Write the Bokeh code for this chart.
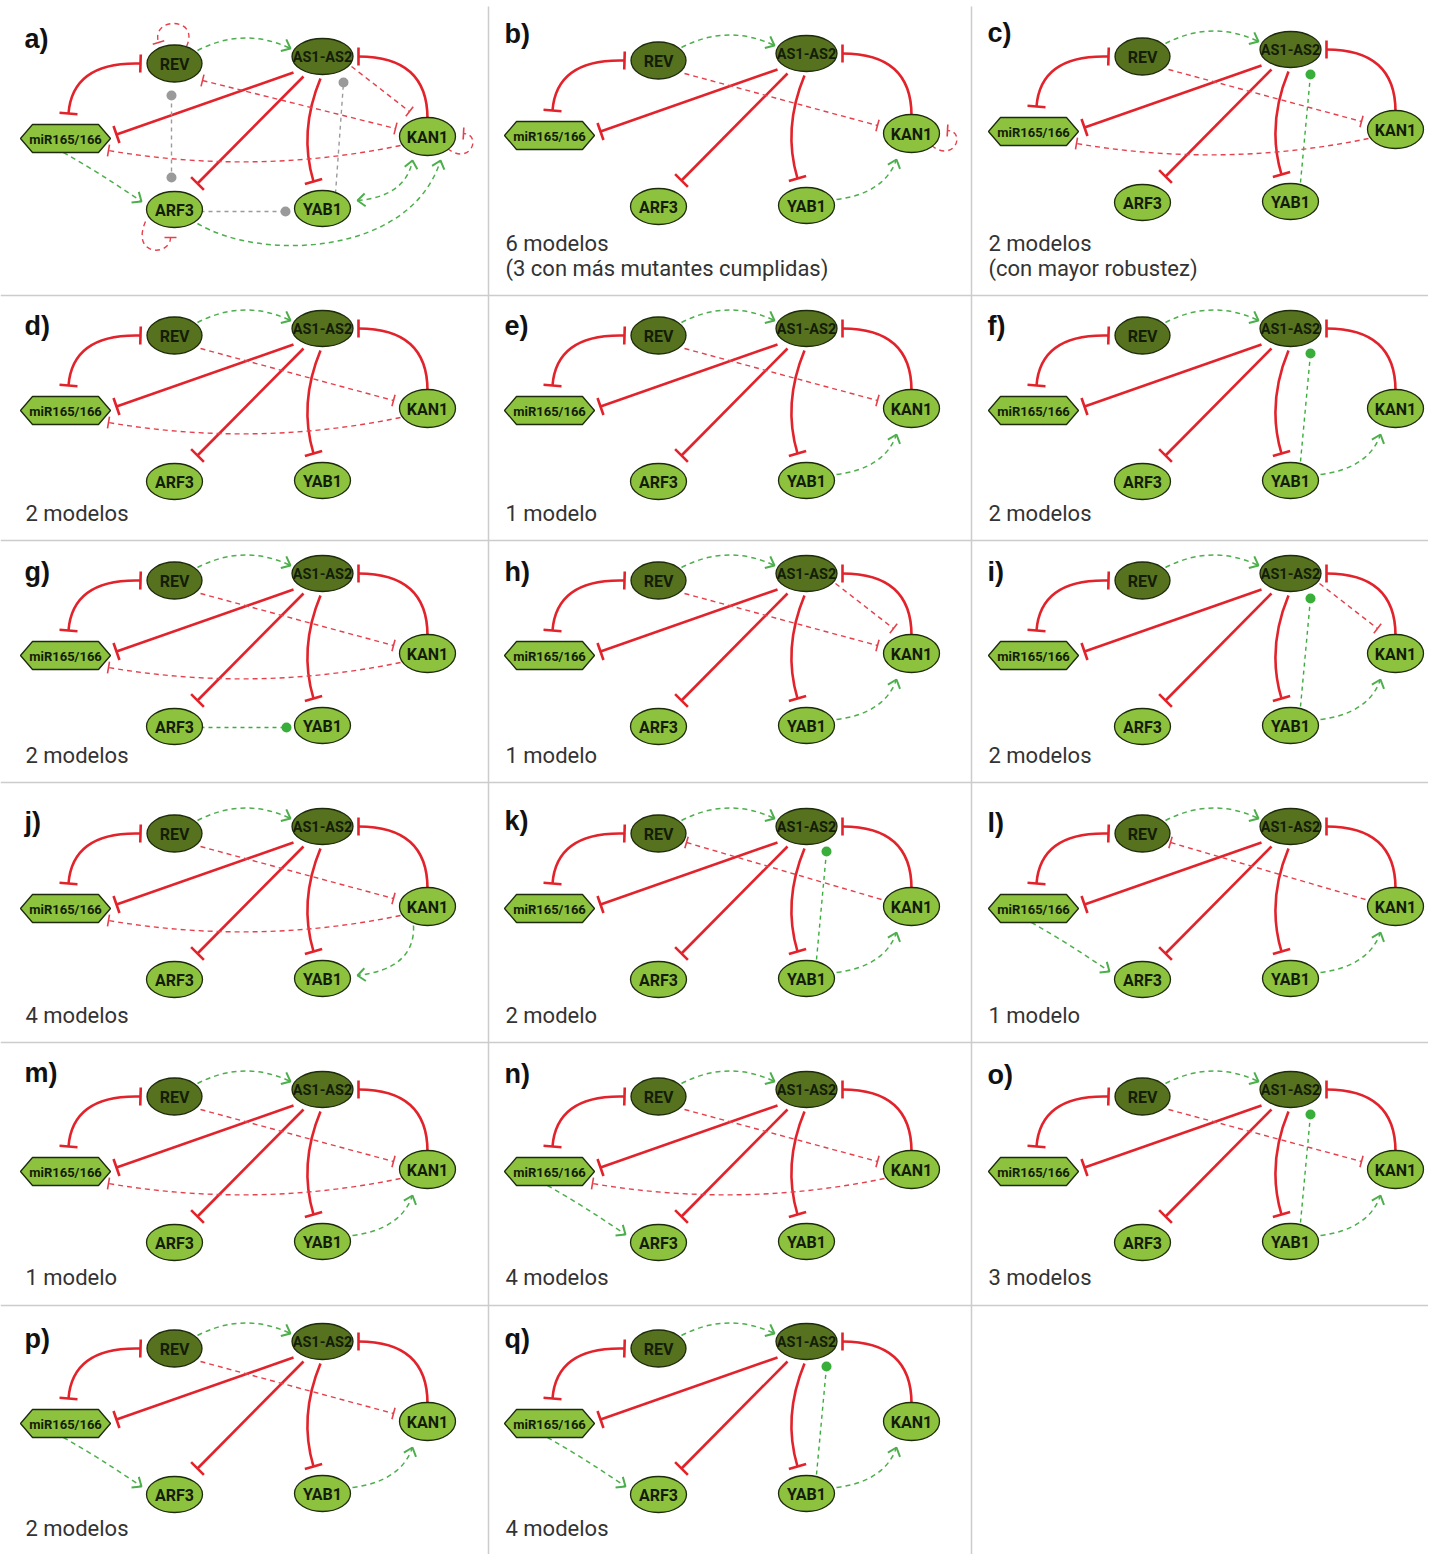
import math
from bokeh.plotting import figure
from bokeh.models import Range1d
from bokeh.core.properties import value
from bokeh.embed import file_html
from bokeh.resources import INLINE

# ---------------- data ----------------
NODES = ["REV", "AS1-AS2", "miR165/166", "KAN1", "ARF3", "YAB1"]
NODE_GROUP = ["oscuro", "oscuro", "miARN", "claro", "claro", "claro"]

PANEL_LABELS = ["a)", "b)", "c)", "d)", "e)", "f)", "g)", "h)", "i)",
                "j)", "k)", "l)", "m)", "n)", "o)", "p)", "q)"]

CAPTIONS = [
    [],
    ["6 modelos", "(3 con más mutantes cumplidas)"],
    ["2 modelos", "(con mayor robustez)"],
    ["2 modelos"], ["1 modelo"], ["2 modelos"],
    ["2 modelos"], ["1 modelo"], ["2 modelos"],
    ["4 modelos"], ["2 modelo"], ["1 modelo"],
    ["1 modelo"], ["4 modelos"], ["3 modelos"],
    ["2 modelos"], ["4 modelos"],
]

# edges common to every panel: (source, target, interaction)
BASE_EDGES = [
    ("REV", "miR165/166", "inhibe-mutua"),
    ("AS1-AS2", "miR165/166", "inhibe"),
    ("AS1-AS2", "ARF3", "inhibe"),
    ("AS1-AS2", "YAB1", "inhibe"),
    ("KAN1", "AS1-AS2", "inhibe"),
    ("REV", "AS1-AS2", "activa?"),
]

# panel-specific edges
EXTRA_EDGES = [
    [("REV", "KAN1", "inhibe-mutua?"), ("KAN1", "miR165/166", "inhibe?"),
     ("AS1-AS2", "KAN1", "inhibe?"), ("YAB1", "KAN1", "activa-mutua?"),
     ("ARF3", "KAN1", "activa?"), ("miR165/166", "ARF3", "activa?"),
     ("REV", "REV", "inhibe?"), ("ARF3", "ARF3", "inhibe?"), ("KAN1", "KAN1", "inhibe?"),
     ("REV", "ARF3", "interaccion"), ("YAB1", "AS1-AS2", "interaccion"),
     ("ARF3", "YAB1", "interaccion")],
    [("REV", "KAN1", "inhibe?"), ("KAN1", "KAN1", "inhibe?"), ("YAB1", "KAN1", "activa?")],
    [("REV", "KAN1", "inhibe?"), ("KAN1", "miR165/166", "inhibe?"), ("YAB1", "AS1-AS2", "contacto?")],
    [("REV", "KAN1", "inhibe?"), ("KAN1", "miR165/166", "inhibe?")],
    [("REV", "KAN1", "inhibe?"), ("YAB1", "KAN1", "activa?")],
    [("YAB1", "AS1-AS2", "contacto?"), ("YAB1", "KAN1", "activa?")],
    [("REV", "KAN1", "inhibe?"), ("KAN1", "miR165/166", "inhibe?"), ("ARF3", "YAB1", "contacto?")],
    [("REV", "KAN1", "inhibe?"), ("AS1-AS2", "KAN1", "inhibe?"), ("YAB1", "KAN1", "activa?")],
    [("AS1-AS2", "KAN1", "inhibe?"), ("YAB1", "AS1-AS2", "contacto?"), ("YAB1", "KAN1", "activa?")],
    [("REV", "KAN1", "inhibe?"), ("KAN1", "miR165/166", "inhibe?"), ("KAN1", "YAB1", "activa?")],
    [("KAN1", "REV", "inhibe?"), ("YAB1", "AS1-AS2", "contacto?"), ("YAB1", "KAN1", "activa?")],
    [("KAN1", "REV", "inhibe?"), ("miR165/166", "ARF3", "activa?"), ("YAB1", "KAN1", "activa?")],
    [("REV", "KAN1", "inhibe?"), ("KAN1", "miR165/166", "inhibe?"), ("YAB1", "KAN1", "activa?")],
    [("REV", "KAN1", "inhibe?"), ("KAN1", "miR165/166", "inhibe?"), ("miR165/166", "ARF3", "activa?")],
    [("REV", "KAN1", "inhibe?"), ("YAB1", "AS1-AS2", "contacto?"), ("YAB1", "KAN1", "activa?")],
    [("REV", "KAN1", "inhibe?"), ("miR165/166", "ARF3", "activa?"), ("YAB1", "KAN1", "activa?")],
    [("YAB1", "AS1-AS2", "contacto?"), ("miR165/166", "ARF3", "activa?"), ("YAB1", "KAN1", "activa?")],
]

# ---------------- layout (positions / styles) ----------------
W, H = 1428, 1554
COL_X0 = [0, 484, 968]
TEXT_X = [25, 505, 988]
PANEL_AS_Y = [56, 53, 49, 328, 328, 328, 573, 573, 573, 826, 826, 826,
              1089, 1089, 1089, 1341, 1341]
LABEL_DY = [-18, -20, -17, -3, -3, -3, -2, -2, -2, -5, -6, -4, -17, -16, -15, -3, -3]
CAPTION_Y = [243, 513, 755, 1015, 1277, 1528]
CAPTION_GAP = 25
HSEP = [295, 540, 782, 1042, 1305]
VSEP = [488, 971]

NODE_POS = {"REV": (174, 7), "AS1-AS2": (322, 0), "miR165/166": (65, 82),
            "KAN1": (427, 80), "ARF3": (174, 153), "YAB1": (322, 152)}
NODE_SIZE = {"REV": (55, 37), "AS1-AS2": (61, 36), "miR165/166": (90, 28),
             "KAN1": (56, 38), "ARF3": (56, 36), "YAB1": (56, 36)}
NODE_FONT = {"REV": "16px", "AS1-AS2": "14.5px", "miR165/166": "13px",
             "KAN1": "16px", "ARF3": "16px", "YAB1": "16px"}
GROUP_FILL = {"oscuro": "#56721f", "claro": "#8dc23f", "miARN": "#8dc23f"}

# edge paths, relative to panel anchor: (control points, start marker, end marker)
GEOM = {
    ("REV", "miR165/166", "inhibe-mutua"): ([(140, 7), (72, 5), (68, 57)], "bar", "bar"),
    ("AS1-AS2", "miR165/166", "inhibe"): ([(293, 16), (116, 78)], None, "bar"),
    ("AS1-AS2", "ARF3", "inhibe"): ([(303, 20), (197, 127)], None, "bar"),
    ("AS1-AS2", "YAB1", "inhibe"): ([(320, 22), (298, 75), (313, 125)], None, "bar"),
    ("KAN1", "AS1-AS2", "inhibe"): ([(427, 62), (427, 0), (358, 0)], None, "bar"),
    ("REV", "AS1-AS2", "activa?"): ([(197, -6), (243, -30), (290, -8)], None, "arrow"),
    ("REV", "KAN1", "inhibe?"): ([(200, 20), (393, 72)], None, "bar"),
    ("KAN1", "REV", "inhibe?"): ([(397, 73), (202, 16)], None, "bar"),
    ("REV", "KAN1", "inhibe-mutua?"): ([(202, 24), (395, 72)], "bar", "bar"),
    ("KAN1", "miR165/166", "inhibe?"): ([(400, 89), (255, 119), (108, 94)], None, "bar"),
    ("AS1-AS2", "KAN1", "inhibe?"): ([(351, 10), (409, 55)], None, "bar"),
    ("YAB1", "KAN1", "activa?"): ([(352, 146), (400, 140), (412, 106)], None, "arrow"),
    ("KAN1", "YAB1", "activa?"): ([(413, 99), (415, 142), (357, 149)], None, "arrow"),
    ("YAB1", "KAN1", "activa-mutua?"): ([(357, 144), (405, 140), (412, 104)], "arrow", "arrow"),
    ("YAB1", "AS1-AS2", "contacto?"): ([(332, 133), (342, 25)], None, "dot"),
    ("ARF3", "YAB1", "contacto?"): ([(200, 154), (286, 154)], None, "dot"),
    ("miR165/166", "ARF3", "activa?"): ([(63, 96), (100, 117), (141, 145)], None, "arrow"),
    ("ARF3", "KAN1", "activa?"): ([(197, 167), (260, 205), (410, 200), (440, 104)], None, "arrow"),
    ("KAN1", "KAN1", "inhibe?"): ([(447, 92), (470, 110), (482, 78), (463, 77)], None, "bar"),
    ("REV", "REV", "inhibe?"): ([(186, -10), (200, -40), (150, -40), (158, -14)], None, "bar"),
    ("ARF3", "ARF3", "inhibe?"): ([(145, 165), (130, 200), (170, 200), (170, 181)], None, "bar"),
    ("REV", "ARF3", "interaccion"): ([(171, 39), (171, 121)], "dot", "dot"),
    ("YAB1", "AS1-AS2", "interaccion"): ([(335, 137), (343, 26)], None, "dot"),
    ("ARF3", "YAB1", "interaccion"): ([(200, 155), (285, 155)], None, "dot"),
}

KIND_STYLE = {"inhibe": "solid", "inhibe-mutua": "solid", "inhibe?": "red",
              "inhibe-mutua?": "red", "activa?": "green", "activa-mutua?": "green",
              "contacto?": "dotgreen", "interaccion": "grey"}
STYLE = {
    "solid": dict(color="#e2232b", width=2.6, dash="solid", bar=18, bar_w=2.6),
    "red": dict(color="#e5404c", width=1.4, dash="5 4", bar=12, bar_w=1.6),
    "green": dict(color="#4caf4c", width=1.5, dash="5 4", arrow=10, arrow_w=2.0),
    "dotgreen": dict(color="#3aae3a", width=1.4, dash="4 4", dot=10),
    "grey": dict(color="#9a9a9a", width=1.4, dash="4 4", dot=10),
}

# ---------------- figure ----------------
p = figure(width=W, height=H, x_range=Range1d(0, W), y_range=Range1d(H, 0),
           output_backend="svg", toolbar_location=None, min_border=0)
p.axis.visible = False
p.grid.visible = False
p.outline_line_color = None
p.background_fill_color = "white"

# separators
p.segment(x0=[0] * len(HSEP), y0=HSEP, x1=[W] * len(HSEP), y1=HSEP,
          line_color="#cccccc", line_width=1.5)
p.segment(x0=VSEP, y0=[6] * len(VSEP), x1=VSEP, y1=[H] * len(VSEP),
          line_color="#cccccc", line_width=1.5)

buckets = {s: dict(seg=[], quad=[], bez=[], bars=[], arrows=[], dots=[]) for s in STYLE}


def add_edge(style, pts, m0, m1):
    b = buckets[style]
    if len(pts) == 2:
        b["seg"].append(pts)
    elif len(pts) == 3:
        b["quad"].append(pts)
    else:
        b["bez"].append(pts)
    for marker, tip, prev in ((m0, pts[0], pts[1]), (m1, pts[-1], pts[-2])):
        if marker is None:
            continue
        dx, dy = tip[0] - prev[0], tip[1] - prev[1]
        L = math.hypot(dx, dy)
        ux, uy = dx / L, dy / L
        if marker == "bar":
            h = STYLE[style]["bar"] / 2
            b["bars"].append(((tip[0] - uy * h, tip[1] + ux * h), (tip[0] + uy * h, tip[1] - ux * h)))
        elif marker == "arrow":
            a = STYLE[style]["arrow"]
            ang = math.radians(40)
            arms = []
            for s in (1, -1):
                c, si = math.cos(s * ang), math.sin(s * ang)
                rx, ry = ux * c - uy * si, ux * si + uy * c
                arms.append((tip[0] - a * rx, tip[1] - a * ry))
            b["arrows"].append((arms[0], tip, arms[1]))
        elif marker == "dot":
            b["dots"].append(tip)


ell = dict(x=[], y=[], w=[], h=[], c=[])
hexes = dict(xs=[], ys=[])
labels = {}

for i, lab in enumerate(PANEL_LABELS):
    col, row = i % 3, i // 3
    ax, ay = COL_X0[col], PANEL_AS_Y[i]
    for (src, tgt, kind) in BASE_EDGES + EXTRA_EDGES[i]:
        rel, m0, m1 = GEOM[(src, tgt, kind)]
        pts = [(ax + px, ay + py) for px, py in rel]
        add_edge(KIND_STYLE[kind], pts, m0, m1)
    for name, grp in zip(NODES, NODE_GROUP):
        nx, ny = NODE_POS[name]
        w, h = NODE_SIZE[name]
        cx, cy = ax + nx, ay + ny
        if grp == "miARN":
            hw, hh, ins = w / 2, h / 2, 12
            hexes["xs"].append([cx - hw, cx - hw + ins, cx + hw - ins, cx + hw, cx + hw - ins, cx - hw + ins])
            hexes["ys"].append([cy, cy - hh, cy - hh, cy, cy + hh, cy + hh])
        else:
            ell["x"].append(cx); ell["y"].append(cy); ell["w"].append(w); ell["h"].append(h)
            ell["c"].append(GROUP_FILL[grp])
        d = labels.setdefault(NODE_FONT[name], dict(x=[], y=[], t=[]))
        d["x"].append(cx); d["y"].append(cy + 1); d["t"].append(name)
    # panel label
    p.text(x=[TEXT_X[col] - 1], y=[ay + LABEL_DY[i]], text=[lab],
           text_font=value("Liberation Sans"), text_font_style="bold",
           text_font_size="27px", text_color="#111111",
           text_align="left", text_baseline="middle")
    for k, cap in enumerate(CAPTIONS[i]):
        p.text(x=[TEXT_X[col]], y=[CAPTION_Y[row] + k * CAPTION_GAP], text=[cap],
               text_font=value("Roboto"), text_font_size="22px", text_color="#333333",
               text_align="left", text_baseline="middle")

# draw edges
for s, b in buckets.items():
    st = STYLE[s]
    kw = dict(line_color=st["color"], line_width=st["width"], line_dash=st["dash"])
    if b["seg"]:
        p.segment(x0=[q[0][0] for q in b["seg"]], y0=[q[0][1] for q in b["seg"]],
                  x1=[q[1][0] for q in b["seg"]], y1=[q[1][1] for q in b["seg"]], **kw)
    if b["quad"]:
        p.quadratic(x0=[q[0][0] for q in b["quad"]], y0=[q[0][1] for q in b["quad"]],
                    cx=[q[1][0] for q in b["quad"]], cy=[q[1][1] for q in b["quad"]],
                    x1=[q[2][0] for q in b["quad"]], y1=[q[2][1] for q in b["quad"]], **kw)
    if b["bez"]:
        p.bezier(x0=[q[0][0] for q in b["bez"]], y0=[q[0][1] for q in b["bez"]],
                 cx0=[q[1][0] for q in b["bez"]], cy0=[q[1][1] for q in b["bez"]],
                 cx1=[q[2][0] for q in b["bez"]], cy1=[q[2][1] for q in b["bez"]],
                 x1=[q[3][0] for q in b["bez"]], y1=[q[3][1] for q in b["bez"]], **kw)
    if b["bars"]:
        p.segment(x0=[q[0][0] for q in b["bars"]], y0=[q[0][1] for q in b["bars"]],
                  x1=[q[1][0] for q in b["bars"]], y1=[q[1][1] for q in b["bars"]],
                  line_color=st["color"], line_width=st["bar_w"])
    if b["arrows"]:
        p.multi_line(xs=[[pt[0] for pt in a] for a in b["arrows"]],
                     ys=[[pt[1] for pt in a] for a in b["arrows"]],
                     line_color=st["color"], line_width=st["arrow_w"])
    if b["dots"]:
        p.scatter(x=[d[0] for d in b["dots"]], y=[d[1] for d in b["dots"]],
                  size=st["dot"], fill_color=st["color"], line_color=None)

# nodes
p.ellipse(x=ell["x"], y=ell["y"], width=ell["w"], height=ell["h"], fill_color=ell["c"],
          line_color="#1d2a0c", line_width=1.3)
p.patches(xs=hexes["xs"], ys=hexes["ys"], fill_color=GROUP_FILL["miARN"],
          line_color="#1d2a0c", line_width=1.3)
for size, d in labels.items():
    p.text(x=d["x"], y=d["y"], text=d["t"], text_font=value("Roboto"),
           text_font_style="bold", text_font_size=size, text_color="#131d08",
           text_align="center", text_baseline="middle")

open("out.html", "w").write(file_html(p, INLINE))
